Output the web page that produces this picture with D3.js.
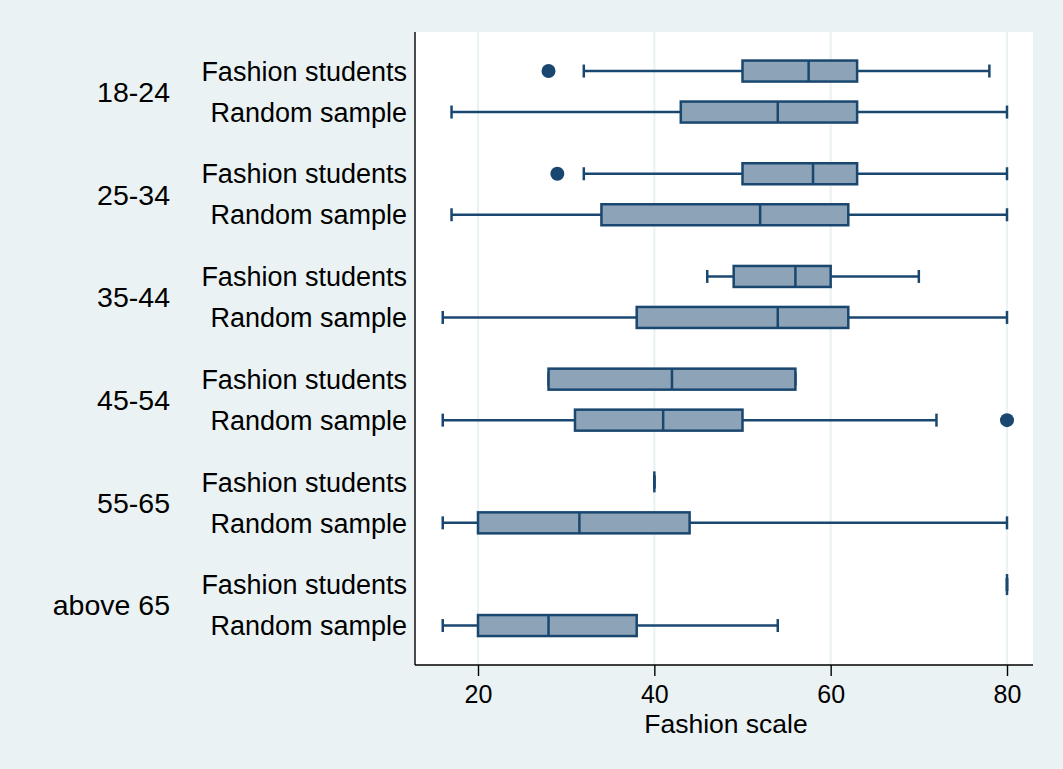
<!DOCTYPE html>
<html>
<head>
<meta charset="utf-8">
<script src="https://cdn.jsdelivr.net/npm/d3@7"></script>
<style>
  html, body { margin: 0; padding: 0; background: #eaf2f3; }
  svg { display: block; }
  text { font-family: "Liberation Sans", Arial, sans-serif; fill: #000; }
</style>
</head>
<body>
<svg id="chart" width="1063" height="769"></svg>
<script>
// Age groups and the two samples compared within each group
const ageGroups = ["18-24", "25-34", "35-44", "45-54", "55-65", "above 65"];
const sampleNames = ["Fashion students", "Random sample"];

// Box-plot summaries on the fashion scale, one value per age group
const fashionLowerWhisker = [32, 32, 46, 28, 40, 80];
const fashionQ1           = [50, 50, 49, 28, 40, 80];
const fashionMedian       = [57.5, 58, 56, 42, 40, 80];
const fashionQ3           = [63, 63, 60, 56, 40, 80];
const fashionUpperWhisker = [78, 80, 70, 56, 40, 80];
const fashionOutliers     = [[28], [29], [], [], [], []];

const randomLowerWhisker = [17, 17, 16, 16, 16, 16];
const randomQ1           = [43, 34, 38, 31, 20, 20];
const randomMedian       = [54, 52, 54, 41, 31.5, 28];
const randomQ3           = [63, 62, 62, 50, 44, 38];
const randomUpperWhisker = [80, 80, 80, 72, 80, 54];
const randomOutliers     = [[], [], [], [80], [], []];

const xTicks = [20, 40, 60, 80];
const xTitle = "Fashion scale";

// Assemble one record per box
const rows = [];
ageGroups.forEach((g, i) => {
  rows.push({ group: g, sample: sampleNames[0],
    lo: fashionLowerWhisker[i], q1: fashionQ1[i], med: fashionMedian[i],
    q3: fashionQ3[i], hi: fashionUpperWhisker[i], out: fashionOutliers[i] });
  rows.push({ group: g, sample: sampleNames[1],
    lo: randomLowerWhisker[i], q1: randomQ1[i], med: randomMedian[i],
    q3: randomQ3[i], hi: randomUpperWhisker[i], out: randomOutliers[i] });
});

// Layout
const W = 1063, H = 769;
const plot = { left: 415, right: 1033, top: 32, bottom: 665 };
const outline = "#1a476f";
const boxFill = "#8da3b7";
const gridColor = "#eaf2f3";
const boxH = 21, capH = 13;

const svg = d3.select("#chart");

svg.append("rect").attr("width", W).attr("height", H).attr("fill", "#eaf2f3");
svg.append("rect")
  .attr("x", plot.left).attr("y", plot.top)
  .attr("width", plot.right - plot.left).attr("height", plot.bottom - plot.top)
  .attr("fill", "#ffffff");

const x = d3.scaleLinear().domain([20, 80]).range([478, 1007]);

const yGroup = d3.scaleBand().domain(ageGroups).range([40.2, 656.4]);
const ySample = d3.scalePoint().domain(sampleNames).range([-20.5, 20.5]);
const yOf = d => yGroup(d.group) + yGroup.bandwidth() / 2 + ySample(d.sample);

// Vertical grid lines
svg.append("g").selectAll("line").data(xTicks).join("line")
  .attr("x1", d => x(d)).attr("x2", d => x(d))
  .attr("y1", plot.top).attr("y2", plot.bottom)
  .attr("stroke", gridColor).attr("stroke-width", 2.2);

// X axis
const xAxis = svg.append("g")
  .attr("transform", `translate(0,${plot.bottom})`)
  .call(d3.axisBottom(x).tickValues(xTicks).tickSize(11).tickPadding(9).tickFormat(d3.format("d")));
xAxis.select(".domain").remove();
xAxis.selectAll(".tick line").attr("stroke", "#000").attr("stroke-width", 1.4);
xAxis.selectAll(".tick text")
  .style("font-size", "25px").attr("fill", "#000")
  .attr("dy", "0.71em");

svg.append("line")
  .attr("x1", plot.left).attr("x2", plot.right)
  .attr("y1", plot.bottom).attr("y2", plot.bottom)
  .attr("stroke", "#000").attr("stroke-width", 1.4);
svg.append("line")
  .attr("x1", plot.left).attr("x2", plot.left)
  .attr("y1", plot.top).attr("y2", plot.bottom)
  .attr("stroke", "#000").attr("stroke-width", 1.4);

svg.append("text")
  .attr("x", (plot.left + plot.right) / 2 + 2).attr("y", 733)
  .attr("text-anchor", "middle")
  .style("font-size", "26.5px")
  .text(xTitle);

// Y labels: sample names and age groups
svg.append("g").selectAll("text").data(rows).join("text")
  .attr("x", 407).attr("y", d => yOf(d))
  .attr("dy", "0.36em")
  .attr("text-anchor", "end")
  .style("font-size", "27px")
  .text(d => d.sample);

svg.append("g").selectAll("text").data(ageGroups).join("text")
  .attr("x", 170).attr("y", d => yGroup(d) + yGroup.bandwidth() / 2)
  .attr("dy", "0.36em")
  .attr("text-anchor", "end")
  .style("font-size", "28.5px")
  .text(d => d);

// Boxes
const boxes = svg.append("g").selectAll("g").data(rows).join("g");

boxes.append("line")
  .attr("x1", d => x(d.lo)).attr("x2", d => x(d.hi))
  .attr("y1", d => yOf(d)).attr("y2", d => yOf(d))
  .attr("stroke", outline).attr("stroke-width", 2.5);

boxes.selectAll("line.cap").data(d => [d.lo, d.hi].map(v => ({ v, y: yOf(d) }))).join("line")
  .attr("class", "cap")
  .attr("x1", c => x(c.v)).attr("x2", c => x(c.v))
  .attr("y1", c => c.y - capH / 2).attr("y2", c => c.y + capH / 2)
  .attr("stroke", outline).attr("stroke-width", 2.5);

boxes.append("rect")
  .attr("x", d => x(d.q1)).attr("width", d => x(d.q3) - x(d.q1))
  .attr("y", d => yOf(d) - boxH / 2).attr("height", boxH)
  .attr("fill", boxFill).attr("stroke", outline).attr("stroke-width", 2.5);

boxes.append("line")
  .attr("x1", d => x(d.med)).attr("x2", d => x(d.med))
  .attr("y1", d => yOf(d) - boxH / 2).attr("y2", d => yOf(d) + boxH / 2)
  .attr("stroke", outline).attr("stroke-width", 2.5);

boxes.selectAll("circle").data(d => d.out.map(v => ({ v, y: yOf(d) }))).join("circle")
  .attr("cx", c => x(c.v)).attr("cy", c => c.y).attr("r", 7)
  .attr("fill", outline);
</script>
</body>
</html>
